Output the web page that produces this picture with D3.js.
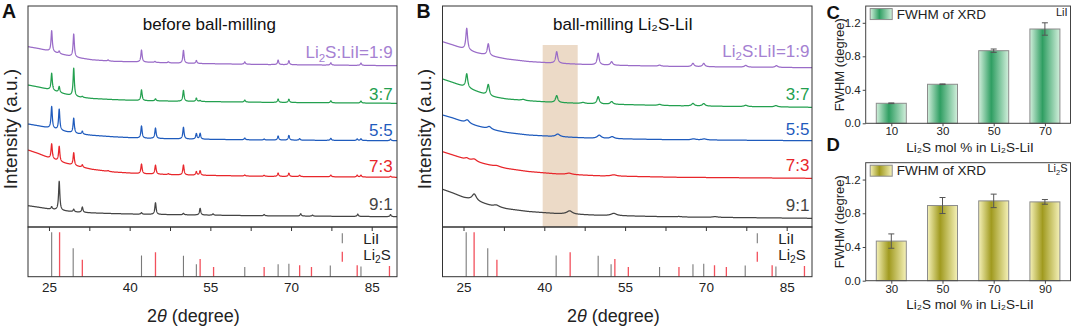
<!DOCTYPE html>
<html>
<head>
<meta charset="utf-8">
<script src="https://cdn.jsdelivr.net/npm/d3@7"></script>
<style>
  body { margin: 0; background: #fff; }
  svg { display: block; }
</style>
</head>
<body>
<div id="fig"></div>
<script>
const WIDTH = 1072;
const HEIGHT = 326;
const FONT = '"Liberation Sans", Arial, Helvetica, sans-serif';

// ---- Datos ----
const RATIO_LABELS = ["1:9", "3:7", "5:5", "7:3", "9:1"];
const CURVE_COLORS = ["#9a6cc8", "#23a04f", "#1f5bbd", "#e8262b", "#444444"];
const LABEL_COLORS = ["#a581d2", "#23a04f", "#1f5bbd", "#e8262b", "#444444"];
const TICKS_2THETA = [25, 40, 55, 70, 85];
const MINOR_2THETA = [32.5, 47.5, 62.5, 77.5];
const DOMAIN_2THETA = [21.1, 89.7];

// fondo (intensidad, a.u.) en estos 2theta
const BASE_T = [21.1, 23, 25, 27.5, 30, 33, 37, 42, 50, 65, 89.7];

const BASE_A = [
  [180.3, 178.5, 176, 172.5, 169.5, 167.2, 165.7, 165, 163.7, 162.5, 161.3],
  [142, 140, 137.5, 133.5, 130.2, 128.5, 127.4, 126.4, 125.7, 124.7, 123.7],
  [103, 101.2, 99, 96, 93.4, 91.7, 90.2, 88.8, 88, 87, 86.3],
  [77, 73.5, 69, 64.5, 61, 57.7, 55, 53.3, 52, 50.7, 49.7],
  [21.3, 19.8, 18, 16.3, 15, 14.1, 13.4, 12.8, 12.2, 11.2, 10.3]
];

const BASE_B = [
  [185.3, 182, 178, 174, 171, 168, 165.5, 163.7, 162, 160.5, 159.3],
  [148, 144.5, 140.5, 135.5, 130.5, 128, 126.2, 124.5, 123, 121.2, 119.7],
  [112, 109, 105, 101, 97.5, 94.5, 92, 90.4, 88.5, 87.2, 86.3],
  [75.3, 72, 68.3, 64.7, 61.7, 58.5, 55.5, 53.2, 51.2, 49.7, 48.7],
  [37.7, 34, 29.5, 25.5, 21.5, 18.2, 15.5, 13.5, 11.7, 10, 8.7]
];

// picos: [2theta, altura, semi-ancho (grados)]
const PEAKS_A = [
  [[25.5, 21], [26.9, 2.5], [29.6, 23], [36.0, 1], [42.2, 12], [44.7, 1], [47.2, 1], [50.0, 13],
   [52.4, 3], [61.4, 2.3], [67.6, 4.5], [69.6, 4], [77.4, 2.3], [83.0, 2.3]],
  [[25.5, 17], [26.9, 6], [29.6, 28], [31.2, 1], [42.2, 10.7], [44.8, 2], [50.0, 11], [52.4, 3.3],
   [53.1, 1], [61.4, 2], [67.6, 3.3], [69.6, 3.3], [77.4, 2], [83.0, 2]],
  [[25.5, 22], [26.9, 21], [29.6, 15], [31.2, 3], [42.2, 12.3], [44.8, 10.4], [50.0, 11.7], [52.4, 5.5],
   [53.1, 5.7], [61.4, 1.7], [65.0, 1], [67.6, 4], [69.6, 4.7], [71.6, 1.5], [77.4, 2], [82.3, 1.5],
   [83.0, 1.7], [88.5, 1.5]],
  [[25.5, 15], [26.9, 15], [29.6, 12.7], [31.2, 2.5], [36.0, 0.8], [42.2, 9.7], [44.8, 9], [47.2, 0.8],
   [50.0, 10], [52.4, 3.5], [53.1, 4.5], [61.4, 1], [65.0, 1], [67.6, 3.3], [69.6, 3.3], [71.6, 1.3],
   [77.4, 1.7], [82.3, 1.8], [83.0, 1.8], [88.5, 1]],
  [[25.5, 2.5], [26.9, 29], [29.6, 2.5], [31.2, 5.3], [42.2, 1.5], [44.8, 11.7], [50.0, 1.5], [53.1, 6.7],
   [55.5, 1.3], [65.0, 1.3], [71.8, 2.3], [74.0, 1], [82.4, 2.3], [88.5, 2]]
];

const PEAKS_B = [
  [[25.6, 21.7, 0.2], [29.6, 11.7, 0.22], [42.3, 11.7, 0.22], [50.0, 11.7, 0.22], [52.5, 3.5, 0.25],
   [61.4, 1, 0.3], [67.6, 3.3, 0.25], [69.6, 3.3, 0.25], [77.4, 1.7, 0.3], [83.1, 1.7, 0.3]],
  [[25.6, 14, 0.22], [29.6, 11.3, 0.25], [36.1, 1, 0.4], [42.3, 7, 0.25], [47.2, 1, 0.4], [50.0, 7.3, 0.25],
   [52.5, 2.7, 0.3], [61.4, 1, 0.35], [67.6, 2.5, 0.3], [69.6, 2.5, 0.3], [77.4, 1.3, 0.35], [83.0, 1.3, 0.35]],
  [[25.7, 3.3, 0.45], [29.8, 2.7, 0.45], [42.5, 2.7, 0.45], [50.2, 3.3, 0.45], [52.6, 2, 0.45],
   [67.7, 1, 0.5], [69.7, 1, 0.5]],
  [[25.6, 1.5, 0.4], [27.0, 2.5, 0.6], [31.2, 1, 0.6], [44.6, 1.3, 0.6], [52.9, 1.3, 0.6]],
  [[27.0, 6.7, 0.5], [31.1, 1.7, 0.6], [44.7, 3.3, 0.6], [52.9, 2.3, 0.6], [65.0, 0.5, 0.6], [71.7, 0.7, 0.6]]
];

// patrones de referencia (intensidad relativa %)
const LII_REF = [[25.5, 100], [29.5, 64], [42.2, 48], [50.0, 47], [52.4, 28], [61.4, 22],
  [67.6, 28], [69.6, 29], [77.3, 25], [83.0, 23]];
const LI2S_REF = [[26.97, 100], [31.2, 38], [44.8, 55], [53.1, 40], [55.6, 22], [65.0, 22],
  [71.6, 26], [73.8, 22], [82.3, 26], [88.3, 24]];

const SHADE_B = [39.7, 46.2];

// FWHM (grados)
const LII_MOL = [10, 30, 50, 70];
const LII_FWHM = [0.239, 0.466, 0.867, 1.126];
const LII_ERR = [0.004, 0.004, 0.02, 0.074];
const LI2S_MOL = [30, 50, 70, 90];
const LI2S_FWHM = [0.47, 0.892, 0.947, 0.935];
const LI2S_ERR = [0.085, 0.095, 0.08, 0.028];
const FWHM_TICKS = [0, 0.4, 0.8, 1.2];

// ---- Layout ----
const PANEL_A = { left: 28, right: 397, top: 6, mid: 227, bottom: 276.7, id: "a",
  title: "before ball-milling", titleX: 209.3, xTitleX: 193.3, labelDy: [7.4, 3.3, 4.7, 5.6, 6.7], labelPad: 4.3 };
const PANEL_B = { left: 442.5, right: 812, top: 6, mid: 227, bottom: 276.7, id: "b",
  title: "ball-milling Li\u2082S-LiI", titleX: 623, xTitleX: 613.3, labelDy: [11, 7.3, 5.7, 7.3, 7.6], labelPad: 2.5, shadeTop: 45 };
const PANEL_C = { left: 865.7, right: 1070.5, top: 6.05, bottom: 123.3, xDomain: [0, 80] };
const PANEL_D = { left: 865.7, right: 1070.5, top: 162.7, bottom: 280.7, xDomain: [20, 100] };

const SVG = d3.select("#fig").append("svg")
  .attr("width", WIDTH).attr("height", HEIGHT)
  .attr("font-family", FONT);
const DEFS = SVG.append("defs");

crearXRD(PANEL_A, BASE_A, PEAKS_A, 0.14, null);
crearXRD(PANEL_B, BASE_B, PEAKS_B, 0.2, SHADE_B);

gradiente("gradVerde", "#d2efdc", "#2f9e62");
gradiente("gradOliva", "#f5f1b8", "#a09a1f");
crearBarras(PANEL_C, LII_MOL, LII_FWHM, LII_ERR, "gradVerde", "LiI");
crearBarras(PANEL_D, LI2S_MOL, LI2S_FWHM, LI2S_ERR, "gradOliva", "Li2S");

// letras de panel
[["A", 2, 17.5, 19.5], ["B", 416.5, 17.5, 19.5], ["C", 826.5, 18.5, 18.5], ["D", 826.5, 150.5, 18.5]]
  .forEach(d => SVG.append("text").attr("x", d[1]).attr("y", d[2]).attr("font-size", d[3])
    .attr("font-weight", "bold").attr("fill", "#111").text(d[0]));

function li2s(sel, size, color) {
  // "Li2S" con subindice
  sel.append("tspan").attr("fill", color).text("Li");
  sel.append("tspan").attr("fill", color).attr("font-size", size * 0.68).attr("dy", size * 0.22).text("2");
  sel.append("tspan").attr("fill", color).attr("dy", -size * 0.22).text("S");
}

function crearXRD(p, base, peaks, wDef, shade) {
  const g = SVG.append("g");
  const x = d3.scaleLinear().domain(DOMAIN_2THETA).range([p.left, p.right]);
  const y = d3.scaleLinear().domain([0, 221]).range([p.mid, p.top]);
  const yRef = d3.scaleLinear().domain([0, 100]).range([p.bottom, p.bottom - 44.4]);

  DEFS.append("clipPath").attr("id", "clip-" + p.id).append("rect")
    .attr("x", p.left).attr("y", p.top).attr("width", p.right - p.left).attr("height", p.bottom - p.top);

  if (shade) {
    g.append("rect")
      .attr("x", x(shade[0])).attr("y", p.shadeTop)
      .attr("width", x(shade[1]) - x(shade[0])).attr("height", p.mid - p.shadeTop)
      .attr("fill", "#ecdac7");
  }

  const curvas = g.append("g").attr("clip-path", `url(#clip-${p.id})`);
  const grid = d3.range(DOMAIN_2THETA[0], DOMAIN_2THETA[1] + 0.001, 0.02);
  const line = d3.line().x(d => x(d[0])).y(d => y(d[1]));

  base.forEach((b, i) => {
    const fondo = d3.scaleLinear().domain(BASE_T).range(b);
    const pk = peaks[i];
    const ts = grid.concat(pk.map(d => d[0])).sort(d3.ascending);
    const pts = ts.map(t => [t, fondo(t) + d3.sum(pk, d => {
      const u = (t - d[0]) / (d[2] || wDef);
      return d[1] / (1 + u * u);
    })]);
    curvas.append("path").datum(pts)
      .attr("d", line).attr("fill", "none")
      .attr("stroke", CURVE_COLORS[i]).attr("stroke-width", 1.25)
      .attr("stroke-linejoin", "round");

    const t = g.append("text")
      .attr("x", p.right - p.labelPad)
      .attr("y", y(b[b.length - 1]) - p.labelDy[i])
      .attr("text-anchor", "end").attr("font-size", 17)
      .attr("fill", LABEL_COLORS[i]);
    if (i == 0) {
      li2s(t, 17, LABEL_COLORS[i]);
      t.append("tspan").text(":LiI=" + RATIO_LABELS[i]);
    } else {
      t.text(RATIO_LABELS[i]);
    }
  });

  // barras de referencia
  const refs = g.append("g").attr("clip-path", `url(#clip-${p.id})`);
  refs.selectAll(".lii").data(LII_REF).join("line")
    .attr("x1", d => x(d[0])).attr("x2", d => x(d[0]))
    .attr("y1", yRef(0)).attr("y2", d => yRef(d[1]))
    .attr("stroke", "#7a7a7a").attr("stroke-width", 1.1);
  refs.selectAll(".li2s").data(LI2S_REF).join("line")
    .attr("x1", d => x(d[0])).attr("x2", d => x(d[0]))
    .attr("y1", yRef(0)).attr("y2", d => yRef(d[1]))
    .attr("stroke", "#f2505c").attr("stroke-width", 1.3);

  // leyenda referencias
  const lx = p.right - 54.7;
  g.append("line").attr("x1", lx).attr("x2", lx).attr("y1", 233.3).attr("y2", 243.3)
    .attr("stroke", "#7a7a7a").attr("stroke-width", 1.1);
  g.append("line").attr("x1", lx).attr("x2", lx).attr("y1", 251.7).attr("y2", 261.7)
    .attr("stroke", "#f2505c").attr("stroke-width", 1.3);
  g.append("text").attr("x", p.right - 33.7).attr("y", 244).attr("font-size", 15).attr("fill", "#222").text("LiI");
  li2s(g.append("text").attr("x", p.right - 33.7).attr("y", 259.5).attr("font-size", 15), 15, "#222");

  // marcos
  g.append("rect").attr("x", p.left).attr("y", p.top).attr("width", p.right - p.left).attr("height", p.mid - p.top)
    .attr("fill", "none").attr("stroke", "#333").attr("stroke-width", 1);
  g.append("rect").attr("x", p.left).attr("y", p.mid).attr("width", p.right - p.left).attr("height", p.bottom - p.mid)
    .attr("fill", "none").attr("stroke", "#333").attr("stroke-width", 1);

  // ticks (hacia abajo, sobre el panel de referencia)
  g.append("g").attr("transform", `translate(0,${p.mid})`)
    .call(d3.axisBottom(x).tickValues(TICKS_2THETA.concat(MINOR_2THETA)).tickSize(4).tickFormat(""))
    .call(s => s.select(".domain").remove())
    .selectAll("line").attr("stroke", "#333");

  g.append("g").attr("transform", `translate(0,${p.bottom})`)
    .call(d3.axisBottom(x).tickValues(TICKS_2THETA).tickSize(0).tickPadding(5.5))
    .call(s => s.select(".domain").remove())
    .selectAll("text").attr("font-size", 13.5).attr("font-family", FONT).attr("fill", "#222");

  // titulos
  g.append("text").attr("x", p.titleX).attr("y", 30).attr("text-anchor", "middle")
    .attr("font-size", 17).attr("fill", "#111").text(p.title);

  g.append("text").attr("transform", `translate(${p.left - 11.5},129) rotate(-90)`)
    .attr("text-anchor", "middle").attr("font-size", 19).attr("fill", "#222")
    .text("Intensity (a.u.)");

  const xt = g.append("text").attr("x", p.xTitleX).attr("y", 321.5).attr("text-anchor", "middle")
    .attr("font-size", 18).attr("fill", "#222");
  xt.append("tspan").text("2");
  xt.append("tspan").attr("font-style", "italic").text("\u03b8");
  xt.append("tspan").text(" (degree)");
}

function gradiente(id, claro, oscuro) {
  const gr = DEFS.append("linearGradient").attr("id", id)
    .attr("x1", "0%").attr("x2", "100%").attr("y1", "0%").attr("y2", "0%");
  gr.append("stop").attr("offset", "0%").attr("stop-color", claro);
  gr.append("stop").attr("offset", "42%").attr("stop-color", oscuro);
  gr.append("stop").attr("offset", "100%").attr("stop-color", claro);
}

function crearBarras(p, xs, vals, errs, grad, tag) {
  const g = SVG.append("g");
  const x = d3.scaleLinear().domain(p.xDomain).range([p.left, p.right]);
  const y = d3.scaleLinear().domain([0, 1.4]).range([p.bottom, p.top]);
  const BW = 30;
  const data = xs.map((m, i) => ({ m: m, v: vals[i], e: errs[i] }));

  g.selectAll(".bar").data(data).join("rect")
    .attr("x", d => x(d.m) - BW / 2).attr("y", d => y(d.v))
    .attr("width", BW).attr("height", d => y(0) - y(d.v))
    .attr("fill", `url(#${grad})`).attr("stroke", "#8c8c8c").attr("stroke-width", 1);

  // barras de error
  const eb = g.selectAll(".err").data(data).join("g").attr("stroke", "#555").attr("stroke-width", 1);
  eb.append("line").attr("x1", d => x(d.m)).attr("x2", d => x(d.m))
    .attr("y1", d => y(d.v - d.e)).attr("y2", d => y(d.v + d.e));
  eb.append("line").attr("x1", d => x(d.m) - 3).attr("x2", d => x(d.m) + 3)
    .attr("y1", d => y(d.v + d.e)).attr("y2", d => y(d.v + d.e));
  eb.append("line").attr("x1", d => x(d.m) - 3).attr("x2", d => x(d.m) + 3)
    .attr("y1", d => y(d.v - d.e)).attr("y2", d => y(d.v - d.e));

  g.append("rect").attr("x", p.left).attr("y", p.top).attr("width", p.right - p.left).attr("height", p.bottom - p.top)
    .attr("fill", "none").attr("stroke", "#444").attr("stroke-width", 1);

  g.append("g").attr("transform", `translate(${p.left},0)`)
    .call(d3.axisLeft(y).tickValues(FWHM_TICKS).tickFormat(d3.format(".1f")).tickSize(3).tickPadding(2))
    .call(s => s.select(".domain").remove())
    .call(s => s.selectAll("line").attr("stroke", "#444"))
    .selectAll("text").attr("font-size", 11.5).attr("font-family", FONT).attr("fill", "#222");

  g.append("g").attr("transform", `translate(0,${p.bottom})`)
    .call(d3.axisBottom(x).tickValues(xs).tickSize(3).tickPadding(1))
    .call(s => s.select(".domain").remove())
    .call(s => s.selectAll("line").attr("stroke", "#444"))
    .selectAll("text").attr("font-size", 11.5).attr("font-family", FONT).attr("fill", "#222");

  // leyenda
  g.append("rect").attr("x", p.left + 4.5).attr("y", p.top + 2.5).attr("width", 22).attr("height", 11)
    .attr("fill", `url(#${grad})`).attr("stroke", "#8c8c8c");
  g.append("text").attr("x", p.left + 31).attr("y", p.top + 12.5).attr("font-size", 13.5).attr("fill", "#222")
    .text("FWHM of XRD");

  const tg = g.append("text").attr("x", p.right - 3).attr("y", p.top + 9.5).attr("text-anchor", "end")
    .attr("font-size", 11).attr("fill", "#222");
  if (tag == "LiI") tg.text("LiI"); else li2s(tg, 11, "#222");

  g.append("text").attr("transform", `translate(${p.left - 22},${(p.top + p.bottom) / 2}) rotate(-90)`)
    .attr("text-anchor", "middle").attr("font-size", 13).attr("fill", "#222").text("FWHM (degree)");

  g.append("text").attr("x", 970).attr("y", p.bottom + 28.4).attr("text-anchor", "middle")
    .attr("font-size", 13.5).attr("fill", "#222").text("Li\u2082S mol % in Li\u2082S-LiI");
}
</script>
</body>
</html>
